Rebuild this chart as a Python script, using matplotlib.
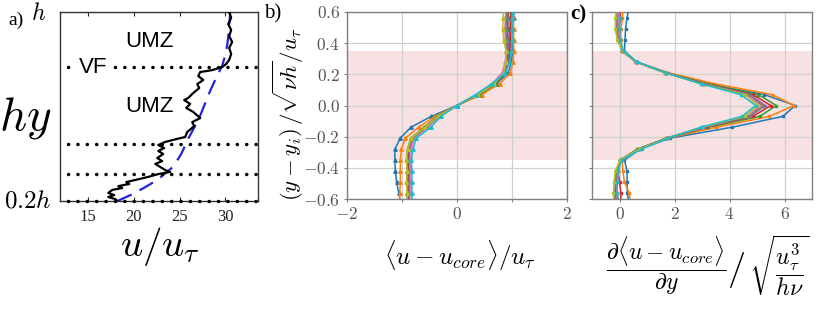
import matplotlib
matplotlib.use("Agg")
import matplotlib.pyplot as plt
import numpy as np

plt.rcParams['mathtext.fontset'] = 'cm'
plt.rcParams['font.family'] = ['DejaVu Serif']

# ---------------- Panel a data ----------------
a_profile_u = [30.44, 30.66, 30.33, 30.66, 30.44, 30.77, 30.44, 30.66, 30.44, 30.11,
               29.68, 28.58, 27.27, 27.05, 27.60, 26.94, 27.16, 26.50, 25.95, 25.51,
               26.17, 25.73, 26.50, 27.27, 26.39, 26.61, 25.84, 25.62, 24.64, 23.43,
               22.67, 23.32, 22.67, 23.21, 22.56, 23.10, 22.34, 22.89, 23.43, 23.98,
               22.67, 21.57, 20.15, 19.16, 19.49, 18.29, 18.72, 17.63, 17.19, 17.85,
               17.19, 17.96, 18.18]
a_profile_y = [1.000, 0.975, 0.949, 0.924, 0.898, 0.873, 0.848, 0.822, 0.797, 0.780,
               0.767, 0.754, 0.746, 0.729, 0.712, 0.695, 0.678, 0.657, 0.636, 0.627,
               0.611, 0.594, 0.577, 0.551, 0.534, 0.517, 0.492, 0.471, 0.462, 0.450,
               0.437, 0.424, 0.412, 0.399, 0.382, 0.369, 0.357, 0.344, 0.331, 0.323,
               0.314, 0.302, 0.289, 0.280, 0.272, 0.263, 0.255, 0.247, 0.234, 0.225,
               0.217, 0.208, 0.200]
a_loglaw_u = [18.2, 19.9, 21.3, 22.6, 24.3, 25.2, 25.9, 26.6, 27.3, 28.4, 29.0, 29.7,
              30.1, 30.3, 30.45, 30.55]
a_loglaw_y = [0.20, 0.23, 0.26, 0.29, 0.345, 0.40, 0.46, 0.51, 0.565, 0.67, 0.72, 0.775,
              0.83, 0.88, 0.94, 1.00]
a_interfaces_y = [0.767, 0.441, 0.314, 0.200]
a_xticks = [15, 20, 25, 30]

# ---------------- Panels b, c data ----------------
y_levels = [-0.63, -0.56, -0.49, -0.42, -0.35, -0.28, -0.21, -0.14, -0.07, 0.0,
            0.07, 0.14, 0.21, 0.28, 0.35, 0.42, 0.49, 0.56, 0.63]

b_series = [
    [-1.02, -1.06, -1.10, -1.12, -1.13, -1.13, -1.03, -0.84, -0.47, 0, 0.40, 0.72, 0.93, 0.99, 1.01, 1.02, 1.02, 1.03, 1.04],
    [-1.05, -1.04, -1.03, -1.03, -1.03, -1.01, -0.94, -0.70, -0.40, 0, 0.45, 0.78, 0.97, 1.02, 1.03, 1.03, 1.03, 1.02, 1.02],
    [-0.90, -0.91, -0.91, -0.91, -0.91, -0.90, -0.84, -0.60, -0.36, 0, 0.40, 0.70, 0.88, 0.94, 0.95, 0.96, 0.96, 0.97, 0.97],
    [-0.88, -0.89, -0.89, -0.89, -0.89, -0.88, -0.82, -0.57, -0.35, 0, 0.38, 0.68, 0.87, 0.94, 0.96, 0.97, 0.98, 0.98, 0.99],
    [-0.87, -0.87, -0.87, -0.87, -0.87, -0.86, -0.80, -0.55, -0.34, 0, 0.36, 0.66, 0.85, 0.92, 0.93, 0.93, 0.92, 0.92, 0.93],
    [-0.89, -0.89, -0.89, -0.89, -0.89, -0.88, -0.81, -0.56, -0.34, 0, 0.37, 0.67, 0.86, 0.91, 0.92, 0.92, 0.92, 0.93, 0.93],
    [-0.83, -0.84, -0.84, -0.84, -0.85, -0.83, -0.77, -0.53, -0.32, 0, 0.35, 0.64, 0.82, 0.88, 0.89, 0.88, 0.87, 0.88, 0.90],
    [-0.90, -0.90, -0.91, -0.91, -0.91, -0.89, -0.82, -0.56, -0.34, 0, 0.36, 0.67, 0.85, 0.90, 0.91, 0.90, 0.89, 0.90, 0.91],
    [-0.90, -0.91, -0.92, -0.91, -0.92, -0.90, -0.83, -0.58, -0.35, 0, 0.38, 0.68, 0.85, 0.89, 0.89, 0.85, 0.83, 0.84, 0.85],
    [-0.82, -0.82, -0.82, -0.82, -0.83, -0.80, -0.74, -0.48, -0.29, 0, 0.34, 0.63, 0.88, 0.96, 0.99, 1.00, 1.00, 1.00, 1.01],
]

c_series = [
    [0.35, 0.28, 0.28, 0.27, 0.18, 0.75, 1.82, 4.08, 5.94, 6.39, 5.27, 3.10, 1.70, 0.62, 0.18, 0.20, 0.22, 0.27, 0.35],
    [0.40, 0.35, 0.18, 0.12, 0.10, 0.72, 1.75, 3.50, 5.45, 6.35, 5.55, 3.45, 1.78, 0.60, 0.10, 0.05, 0.05, 0.10, 0.15],
    [0.00, -0.10, -0.15, -0.12, 0.02, 0.65, 1.70, 3.20, 5.10, 5.70, 5.05, 3.20, 1.70, 0.62, 0.12, -0.05, -0.05, 0.00, 0.05],
    [0.05, 0.05, 0.00, -0.05, 0.05, 0.70, 1.72, 3.15, 4.85, 5.50, 4.85, 3.10, 1.68, 0.62, 0.12, 0.00, -0.02, 0.02, 0.05],
    [-0.10, -0.12, -0.10, -0.08, 0.05, 0.70, 1.70, 3.10, 4.75, 5.30, 4.75, 3.05, 1.68, 0.60, 0.10, -0.05, -0.08, -0.05, -0.05],
    [-0.15, -0.15, -0.12, -0.10, 0.03, 0.68, 1.70, 3.05, 4.70, 5.20, 4.70, 3.05, 1.67, 0.60, 0.10, -0.05, -0.10, -0.10, -0.10],
    [-0.05, -0.10, -0.08, -0.05, 0.05, 0.72, 1.72, 3.00, 4.65, 5.10, 4.65, 3.00, 1.65, 0.58, 0.12, -0.02, -0.05, -0.05, 0.00],
    [-0.15, -0.18, -0.15, -0.10, 0.02, 0.70, 1.70, 3.05, 4.72, 5.25, 4.72, 3.05, 1.67, 0.60, 0.10, -0.05, -0.10, -0.12, -0.15],
    [-0.20, -0.22, -0.20, -0.15, 0.02, 0.72, 1.72, 3.00, 4.55, 5.05, 4.55, 2.95, 1.65, 0.60, 0.12, -0.08, -0.15, -0.15, -0.10],
    [-0.05, -0.08, -0.08, -0.05, 0.08, 0.80, 1.75, 2.95, 4.45, 4.95, 4.40, 2.95, 1.68, 0.62, 0.15, 0.02, 0.00, 0.00, 0.00],
]

band = (-0.35, 0.35)
b_xticks = [-2, -1, 0, 1, 2]
b_xticklabels = ['$-2$', '', '$0$', '', '$2$']
bc_yticks = [-0.6, -0.4, -0.2, 0.0, 0.2, 0.4, 0.6]
b_yticklabels = ['$-0.6$', '$-0.4$', '$-0.2$', '$0.0$', '$0.2$', '$0.4$', '$0.6$']
c_xticks = [0, 2, 4, 6]
c_xticklabels = ['$0$', '$2$', '$4$', '$6$']

colors = plt.get_cmap('tab10').colors

W, H = 823, 314
fig = plt.figure(figsize=(W / 100, H / 100), dpi=100)

def box(l, t, r, b):
    return [l / W, 1 - b / H, (r - l) / W, (b - t) / H]

# ---------------- Panel a ----------------
axa = fig.add_axes(box(60, 12, 258, 201))
axa.set_xlim(11.9, 33.6)
axa.set_ylim(0.2, 1.0)
for yy in a_interfaces_y:
    axa.plot([12.75, 33.6], [yy, yy], color='black', lw=2.5, clip_on=False,
             linestyle=(0, (0.05, 2.65)), dash_capstyle='round', zorder=3)
axa.plot(a_loglaw_u, a_loglaw_y, color='#2222dd', lw=1.6, dashes=(7, 4), zorder=2)
axa.plot(a_profile_u, a_profile_y, color='black', lw=1.6, zorder=4)
axa.set_xticks(a_xticks)
axa.set_xticklabels([str(v) for v in a_xticks], family='Liberation Serif', fontsize=12)
axa.tick_params(axis='x', direction='in', length=3, top=True, pad=6, colors='#222')
axa.set_yticks([])
for s in axa.spines.values():
    s.set_color('#333')
    s.set_linewidth(1.0)
axa.text(21.7, 0.877, 'UMZ', family='Liberation Sans', fontsize=16, ha='center', va='center')
axa.text(21.7, 0.598, 'UMZ', family='Liberation Sans', fontsize=16, ha='center', va='center')
axa.text(15.55, 0.767, 'VF', family='Liberation Sans', fontsize=16, ha='center', va='center',
         zorder=5, bbox=dict(facecolor='white', edgecolor='none', pad=2.5))

fig.text(8 / W, 1 - 20 / H, 'a)', family='Liberation Serif', fontsize=14, va='center', ha='left')
fig.text(39 / W, 1 - 14 / H, '$h$', fontsize=17, va='center', ha='center')
fig.text(28 / W, 1 - 201 / H, '$0.2h$', fontsize=18, va='center', ha='center')
fig.text(25 / W, 1 - 118 / H, '$hy$', fontsize=34, va='center', ha='center')
fig.text(160 / W, 1 - 246 / H, r'$u/u_\tau$', fontsize=28, va='center', ha='center')

# ---------------- Panels b and c ----------------
def style_bc(ax):
    ax.set_ylim(-0.6, 0.6)
    ax.axhspan(band[0], band[1], color='#f7e1e2', zorder=0, lw=0)
    ax.grid(True, color='#d0d0d0', lw=0.9, zorder=1)
    ax.set_axisbelow(True)
    ax.set_yticks(bc_yticks)
    for s in ax.spines.values():
        s.set_color('#808080')
        s.set_linewidth(1.0)
    ax.tick_params(length=2, width=0.8, colors='#808080', labelcolor='#555555',
                   labelsize=12.5, pad=3)

axb = fig.add_axes(box(347, 12, 567, 199))
style_bc(axb)
axb.set_xlim(-2, 2)
axb.set_xticks(b_xticks)
axb.set_xticklabels(b_xticklabels)
axb.set_yticklabels(b_yticklabels)
for i, vals in enumerate(b_series):
    axb.plot(vals, y_levels, color=colors[i], lw=1.1, marker='^', ms=2.5, zorder=3)

axc = fig.add_axes(box(592, 12, 812, 199))
style_bc(axc)
axc.set_xlim(-1, 7)
axc.set_xticks(c_xticks)
axc.set_xticklabels(c_xticklabels)
axc.set_yticklabels([])
for i, vals in enumerate(c_series):
    axc.plot(vals, y_levels, color=colors[i], lw=1.1, marker='s', ms=1.6, zorder=3)

fig.text(264 / W, 1 - 14 / H, 'b)', family='Liberation Serif', fontsize=15, va='center', ha='left')
fig.text(570 / W, 1 - 14 / H, 'c)', family='Liberation Serif', fontsize=15, weight='bold',
         va='center', ha='left')
fig.text(288 / W, 1 - 114 / H, r'$(y-y_i)\,/\sqrt{\nu h}/u_\tau$', fontsize=16.5,
         rotation=90, va='center', ha='center')
fig.text(460 / W, 1 - 256 / H, r'$\langle u-u_{core}\rangle/u_\tau$', fontsize=18,
         va='center', ha='center')
# c x-label: fraction / sqrt(fraction)
fig.text(666 / W, 1 - 266 / H, r'$\dfrac{\partial\langle u-u_{core}\rangle}{\partial y}$',
         fontsize=17, va='center', ha='center')
fig.text(736 / W, 1 - 270 / H, r'$/$', fontsize=26, va='center', ha='center')
fig.text(779 / W, 1 - 266 / H, r'$\sqrt{\dfrac{u_\tau^3}{h\nu}}$',
         fontsize=17, va='center', ha='center')

fig.savefig('out.png', dpi=100)
